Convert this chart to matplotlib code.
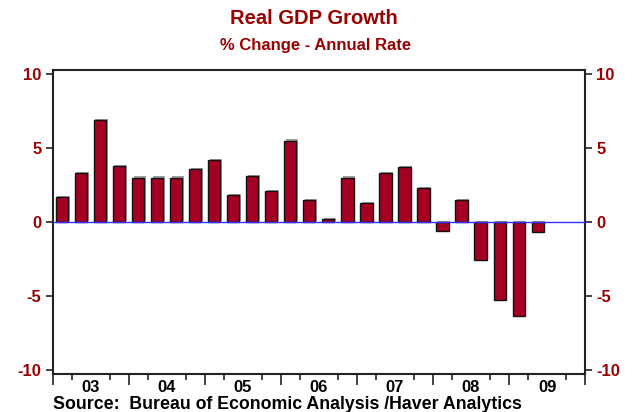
import matplotlib.pyplot as plt
import matplotlib.patheffects as pe
import numpy as np

# Real GDP growth, quarterly, 2003Q1 - 2009Q2 (% change, annual rate)
gdp_growth = [1.7, 3.3, 6.9, 3.8, 3.0, 3.0, 3.0, 3.6,
              4.2, 1.8, 3.1, 2.1, 5.5, 1.5, 0.2, 3.0,
              1.3, 3.3, 3.7, 2.3, -0.6, 1.5, -2.6, -5.3,
              -6.4, -0.7]
year_labels = ['03', '04', '05', '06', '07', '08', '09']
n_quarters = 28  # axis spans 2003Q1 - 2009Q4

bar_red = '#A50021'
text_red = '#990000'
plt.rcParams['font.family'] = ['Liberation Sans', 'DejaVu Sans']
plt.rcParams['axes.unicode_minus'] = False

fig = plt.figure(figsize=(6.34, 4.12), dpi=100)
ax = fig.add_axes([0.083, 0.092, 0.840, 0.739])

x = np.arange(len(gdp_growth))
ax.bar(x, gdp_growth, width=0.64, color=bar_red, edgecolor='#111111',
       linewidth=1.0, zorder=2,
       path_effects=[pe.SimplePatchShadow(offset=(1.0, 0.8), shadow_rgbFace='#777777', alpha=0.7),
                     pe.Normal()])
ax.axhline(0, color='#3030ff', lw=1.0, zorder=3)

ax.set_xlim(-0.5, n_quarters - 0.5)
ax.set_ylim(-10.3, 10.3)

# y axis on both sides
ax.set_yticks([-10, -5, 0, 5, 10])
ax.tick_params(axis='y', which='both', direction='out', length=5, width=1.2,
               color='#222222', labelcolor=text_red, labelsize=12,
               left=True, right=True, labelleft=True, labelright=True, pad=3)
for lab in ax.get_yticklabels():
    lab.set_fontweight('bold')

# x axis: long ticks at year boundaries, short at Q1/Q2 and Q3/Q4
ax.set_xticks(np.arange(-0.5, n_quarters, 4))
ax.set_xticks(np.concatenate([np.arange(0.5, n_quarters, 4), np.arange(2.5, n_quarters, 4)]), minor=True)
ax.set_xticklabels([])
ax.tick_params(axis='x', which='major', direction='out', length=8, width=1.2, color='#222222')
ax.tick_params(axis='x', which='minor', direction='out', length=4, width=1.2, color='#222222')
for i, lab in enumerate(year_labels):
    ax.text(1.5 + 4 * i, -0.045, lab, transform=ax.get_xaxis_transform(),
            ha='center', va='center', fontsize=12, fontweight='bold', color='black')

for s in ax.spines.values():
    s.set_color('#222222')
    s.set_linewidth(1.5)

fig.text(0.495, 0.955, 'Real GDP Growth', ha='center', va='center',
         fontsize=14.5, fontweight='bold', color=text_red)
fig.text(0.497, 0.89, '% Change - Annual Rate', ha='center', va='center',
         fontsize=12, fontweight='bold', color=text_red)
fig.text(0.084, 0.018, 'Source:  Bureau of Economic Analysis /Haver Analytics',
         ha='left', va='center', fontsize=12.8, fontweight='bold', color='black')

fig.savefig('out.png', dpi=100)
